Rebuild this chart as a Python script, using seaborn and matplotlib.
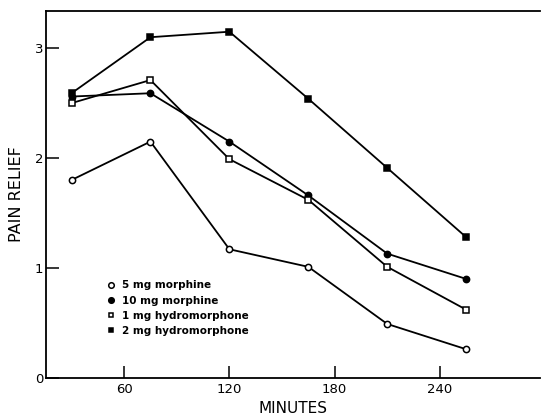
import matplotlib
matplotlib.use("Agg")
import matplotlib.pyplot as plt
from matplotlib.lines import Line2D
import seaborn as sns
import pandas as pd

minutes = [30, 75, 120, 165, 210, 255]
morphine_5 = [1.80, 2.15, 1.17, 1.01, 0.49, 0.26]
morphine_10 = [2.56, 2.59, 2.15, 1.66, 1.13, 0.90]
hydro_1 = [2.50, 2.71, 1.99, 1.62, 1.01, 0.62]
hydro_2 = [2.59, 3.10, 3.15, 2.54, 1.91, 1.28]

labels = ["5 mg morphine", "10 mg morphine", "1 mg hydromorphone", "2 mg hydromorphone"]
series = [morphine_5, morphine_10, hydro_1, hydro_2]
markers = ["o", "o", "s", "s"]
faces = ["white", "black", "white", "black"]

rows = []
for lab, vals in zip(labels, series):
    for m, v in zip(minutes, vals):
        rows.append({"Minutes": m, "Relief": v, "Group": lab})
df = pd.DataFrame(rows)

sns.set_style("ticks")
plt.rcParams['font.family'] = ['DejaVu Sans']
plt.rcParams['text.color'] = 'black'
plt.rcParams['axes.labelcolor'] = 'black'

fig = plt.figure(figsize=(5.42, 4.17), dpi=100)
ax = fig.add_axes([0.085, 0.094, 0.911, 0.880])

for lab, mk, fc in zip(labels, markers, faces):
    sub = df[df["Group"] == lab]
    sns.lineplot(data=sub, x="Minutes", y="Relief", ax=ax, color="black",
                 linewidth=1.3, marker=mk, markersize=4.5 if mk == "o" else 4,
                 markerfacecolor=fc, markeredgecolor="black", markeredgewidth=1.1)

ax.set_xlim(15.5, 297)
ax.set_ylim(0, 3.34)
ax.set_xticks([60, 120, 180, 240])
ax.set_yticks([0, 1, 2, 3])
ax.tick_params(direction="in", length=9, width=1.1, labelsize=9.5, colors="black", pad=2)
ax.tick_params(axis="x", pad=4)
for s in ["left", "bottom", "top"]:
    ax.spines[s].set_linewidth(1.3)
    ax.spines[s].set_color("black")
ax.spines["right"].set_visible(False)

ax.set_xlabel("MINUTES", fontsize=11, labelpad=3, color="black")
ax.set_ylabel("PAIN RELIEF", fontsize=11.5, labelpad=8, color="black")

handles = [Line2D([], [], linestyle="none", marker=mk, markersize=4 if mk == "o" else 3.5,
                  markerfacecolor=fc, markeredgecolor="black", markeredgewidth=1.1)
           for mk, fc in zip(markers, faces)]
ax.legend(handles, labels, frameon=False, loc="upper left", bbox_to_anchor=(0.115, 0.277),
          handlelength=0.8, handletextpad=0.6, labelspacing=0.5, borderaxespad=0,
          prop={"weight": "bold", "size": 7.5})

fig.savefig("out.png", dpi=100)
